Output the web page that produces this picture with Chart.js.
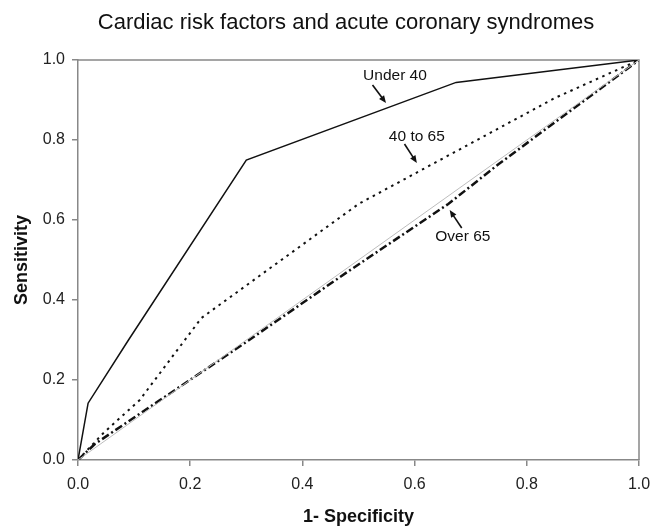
<!DOCTYPE html>
<html>
<head>
<meta charset="utf-8">
<script src="https://cdn.jsdelivr.net/npm/chart.js@4.4.1/dist/chart.umd.min.js"></script>
<style>
  html, body { margin: 0; padding: 0; background: #fff; }
  #wrap { width: 665px; height: 528px; }
</style>
</head>
<body>
<div id="wrap"><canvas id="roc"></canvas></div>
<script>
const chartTitle = 'Cardiac risk factors and acute coronary syndromes';
const xTicks = [0, 0.2, 0.4, 0.6, 0.8, 1.0];
const yTicks = [0, 0.2, 0.4, 0.6, 0.8, 1.0];

const under40X = [0, 0.018, 0.09, 0.30, 0.674, 1];
const under40Y = [0, 0.142, 0.30, 0.75, 0.944, 1];

const mid40X = [0, 0.045, 0.11, 0.22, 0.5, 0.85, 1];
const mid40Y = [0, 0.067, 0.15, 0.355, 0.64, 0.905, 1];

const over65X = [0, 0.03, 0.3, 0.48, 0.66, 0.75, 1];
const over65Y = [0, 0.04, 0.295, 0.47, 0.64, 0.74, 1];

const refX = [0, 1];
const refY = [0, 1];

// annotation labels: text, label position, arrow start, arrow end (data units)
const notes = [
  { text: 'Under 40', at: [0.565, 0.96], from: [0.525, 0.9375], to: [0.549, 0.8925] },
  { text: '40 to 65', at: [0.604, 0.8075], from: [0.582, 0.79], to: [0.604, 0.7425] },
  { text: 'Over 65', at: [0.686, 0.5575], from: [0.684, 0.58], to: [0.6625, 0.625] }
];

const pts = (xs, ys) => xs.map((x, i) => ({ x: x, y: ys[i] }));
const family = '"Liberation Sans", Arial, sans-serif';

const frame = {
  id: 'frame',
  beforeDatasetsDraw(chart) {
    const { ctx, chartArea: a } = chart;
    ctx.save();
    ctx.strokeStyle = '#888';
    ctx.lineWidth = 1.5;
    ctx.beginPath();
    ctx.moveTo(a.left, a.top);
    ctx.lineTo(a.right, a.top);
    ctx.lineTo(a.right, a.bottom);
    ctx.stroke();
    ctx.fillStyle = '#111';
    ctx.font = '22px ' + family;
    ctx.textAlign = 'center';
    ctx.textBaseline = 'alphabetic';
    ctx.fillText(chartTitle, 346, 28.5);
    ctx.restore();
  },
  afterDatasetsDraw(chart) {
    const { ctx, scales: { x, y } } = chart;
    ctx.save();
    ctx.fillStyle = '#111';
    ctx.strokeStyle = '#111';
    ctx.font = '15.5px ' + family;
    ctx.textAlign = 'center';
    ctx.textBaseline = 'middle';
    notes.forEach(n => {
      ctx.fillText(n.text, x.getPixelForValue(n.at[0]), y.getPixelForValue(n.at[1]));
      const x0 = x.getPixelForValue(n.from[0]), y0 = y.getPixelForValue(n.from[1]);
      const x1 = x.getPixelForValue(n.to[0]), y1 = y.getPixelForValue(n.to[1]);
      const ang = Math.atan2(y1 - y0, x1 - x0);
      ctx.lineWidth = 1.6;
      ctx.beginPath();
      ctx.moveTo(x0, y0);
      ctx.lineTo(x1 - 4 * Math.cos(ang), y1 - 4 * Math.sin(ang));
      ctx.stroke();
      ctx.beginPath();
      ctx.moveTo(x1, y1);
      ctx.lineTo(x1 - 8 * Math.cos(ang - 0.4), y1 - 8 * Math.sin(ang - 0.4));
      ctx.lineTo(x1 - 8 * Math.cos(ang + 0.4), y1 - 8 * Math.sin(ang + 0.4));
      ctx.closePath();
      ctx.fill();
    });
    ctx.restore();
  }
};

new Chart(document.getElementById('roc'), {
  type: 'scatter',
  data: {
    datasets: [
      { label: 'Reference', data: pts(refX, refY), borderColor: '#bdbdbd', borderWidth: 1 },
      { label: 'Over 65', data: pts(over65X, over65Y), borderColor: '#111', borderWidth: 2.5, borderDash: [8, 3, 2, 3] },
      { label: '40 to 65', data: pts(mid40X, mid40Y), borderColor: '#111', borderWidth: 2, borderDash: [2.5, 4.5] },
      { label: 'Under 40', data: pts(under40X, under40Y), borderColor: '#111', borderWidth: 1.5 }
    ]
  },
  plugins: [frame],
  options: {
    responsive: true,
    maintainAspectRatio: false,
    animation: false,
    showLine: true,
    elements: { point: { radius: 0 }, line: { tension: 0 } },
    layout: { padding: { left: 0, right: 26, top: 60, bottom: 0 } },
    plugins: {
      legend: { display: false },
      tooltip: { enabled: false },
      title: { display: false }
    },
    scales: {
      x: {
        type: 'linear', min: 0, max: 1,
        afterFit: s => { s.height = 68; },
        afterBuildTicks: s => { s.ticks = xTicks.map(v => ({ value: v })); },
        ticks: { color: '#222', font: { family: family, size: 16 }, padding: 9, callback: v => v.toFixed(1), maxRotation: 0 },
        grid: { drawOnChartArea: false, color: '#888', lineWidth: 1.5, tickLength: 6 },
        border: { color: '#888', width: 1.5 },
        title: { display: true, text: '1- Specificity', color: '#111', font: { family: family, size: 18, weight: 'bold' }, padding: { top: 0, bottom: 0.5 } }
      },
      y: {
        type: 'linear', min: 0, max: 1,
        afterFit: s => { s.width = 78; },
        afterBuildTicks: s => { s.ticks = yTicks.map(v => ({ value: v })); },
        ticks: { color: '#222', font: { family: family, size: 16 }, padding: 7, callback: v => v.toFixed(1) },
        grid: { drawOnChartArea: false, color: '#888', lineWidth: 1.5, tickLength: 6 },
        border: { color: '#888', width: 1.5 },
        title: { display: true, text: 'Sensitivity', color: '#111', font: { family: family, size: 18, weight: 'bold' }, padding: { top: 11, bottom: 0 } }
      }
    }
  }
});
</script>
</body>
</html>
